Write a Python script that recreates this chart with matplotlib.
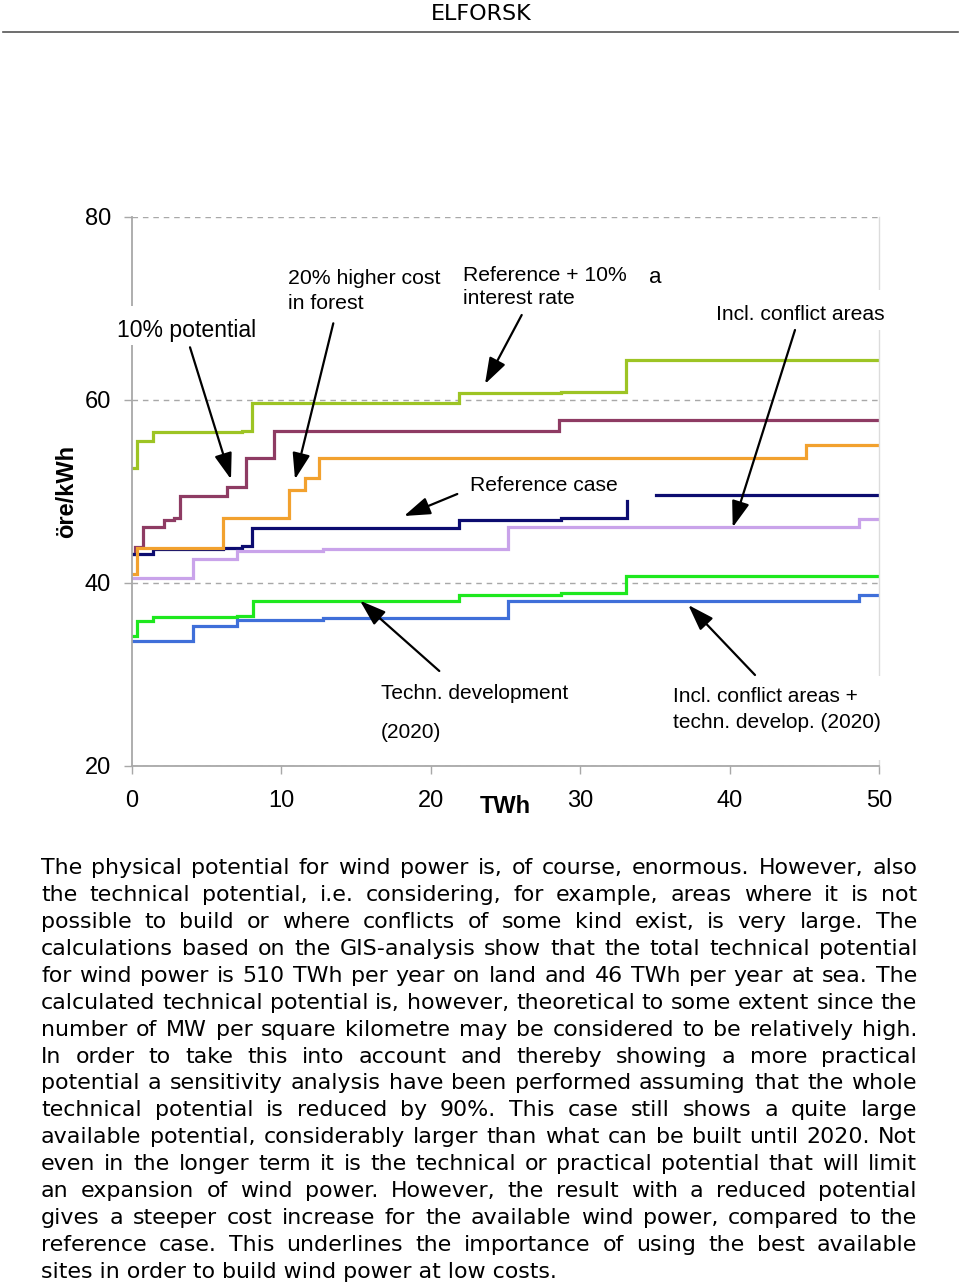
import matplotlib
matplotlib.use("Agg")
import matplotlib.pyplot as plt
import numpy as np
from matplotlib.lines import Line2D
from matplotlib.patches import FancyArrowPatch, Rectangle

W, H = 960, 1285

# step curves: TWh where a step starts -> cost (öre/kWh) from there on
interest_x = [0, 0.33, 1.45, 7.36, 8.07, 21.9, 28.7, 33.1, 50]
interest_y = [52.6, 55.5, 56.5, 56.6, 59.6, 60.7, 60.9, 64.3, 64.3]

pot10_x = [0, 0.2, 0.74, 2.16, 2.8, 3.23, 6.35, 7.65, 9.54, 28.56, 50]
pot10_y = [43.2, 43.9, 46.1, 46.9, 47.05, 49.5, 50.5, 53.65, 56.6, 57.8, 57.8]

forest_x = [0, 0.33, 6.13, 10.55, 11.6, 12.5, 45.1, 50]
forest_y = [41.0, 43.85, 47.05, 50.2, 51.5, 53.65, 55.1, 55.1]

ref_x = [0, 1.45, 6.13, 7.36, 8.07, 21.9, 28.7, 33.15, np.nan, 35.05, 50]
ref_y = [43.2, 43.65, 43.8, 44.0, 46.05, 46.9, 47.1, 49.0, np.nan, 49.55, 49.55]

conflict_x = [0, 4.12, 7.06, 12.8, 25.15, 48.65, 50]
conflict_y = [40.55, 42.65, 43.5, 43.7, 46.1, 46.95, 46.95]

techn_x = [0, 0.33, 1.45, 7.06, 8.1, 21.9, 28.7, 33.1, 50]
techn_y = [34.2, 35.8, 36.3, 36.4, 38.05, 38.7, 38.9, 40.7, 40.7]

conflict_techn_x = [0, 4.12, 7.06, 12.8, 25.15, 48.65, 50]
conflict_techn_y = [33.65, 35.25, 36.0, 36.2, 38.05, 38.7, 38.7]

series = [
    (interest_x, interest_y, "#9dc424"),
    (pot10_x, pot10_y, "#8e3b63"),
    (ref_x, ref_y, "#0c0c70"),
    (forest_x, forest_y, "#f2a12e"),
    (conflict_x, conflict_y, "#c9a3ea"),
    (techn_x, techn_y, "#1ee81e"),
    (conflict_techn_x, conflict_techn_y, "#3f6fd9"),
]

x_ticks = [0, 10, 20, 30, 40, 50]
y_ticks = [20, 40, 60, 80]

body = [
    "The physical potential for wind power is, of course, enormous. However, also",
    "the technical potential, i.e. considering, for example, areas where it is not",
    "possible to build or where conflicts of some kind exist, is very large. The",
    "calculations based on the GIS-analysis show that the total technical potential",
    "for wind power is 510 TWh per year on land and 46 TWh per year at sea. The",
    "calculated technical potential is, however, theoretical to some extent since the",
    "number of MW per square kilometre may be considered to be relatively high.",
    "In order to take this into account and thereby showing a more practical",
    "potential a sensitivity analysis have been performed assuming that the whole",
    "technical potential is reduced by 90%. This case still shows a quite large",
    "available potential, considerably larger than what can be built until 2020. Not",
    "even in the longer term it is the technical or practical potential that will limit",
    "an expansion of wind power. However, the result with a reduced potential",
    "gives a steeper cost increase for the available wind power, compared to the",
    "reference case. This underlines the importance of using the best available",
    "sites in order to build wind power at low costs.",
]


def fx(px):
    return px / W


def fy(py):
    return 1 - py / H


fig = plt.figure(figsize=(W / 100, H / 100), dpi=100)
ax = fig.add_axes([fx(131.7), fy(766), (879 - 131.7) / W, (766 - 216.7) / H])

for xs, ys, col in series:
    ax.plot(xs, ys, drawstyle="steps-post", color=col, lw=2.3, solid_joinstyle="miter")

ax.set_xlim(0, 50)
ax.set_ylim(20, 80)
ax.set_xticks(x_ticks)
ax.set_yticks(y_ticks)
ax.grid(axis="y", linestyle=(0, (4, 3.5)), color="#a8a8a8", lw=1)
ax.set_axisbelow(True)
for lab in ax.get_xticklabels() + ax.get_yticklabels():
    lab.set_family("Liberation Sans")
    lab.set_fontsize(17)
ax.tick_params(axis="y", direction="out", length=6, width=1, color="#a8a8a8", pad=9)
ax.tick_params(axis="x", direction="out", length=6, width=1, color="#a8a8a8", pad=11)
ax.spines["top"].set_visible(False)
for s in ("left", "bottom"):
    ax.spines[s].set_color("#a8a8a8")
    ax.spines[s].set_linewidth(1.3)
ax.spines["right"].set_color("#dcdcdc")
ax.spines["right"].set_linewidth(1)

# white text boxes that hide parts of the frame
for x0, y0, x1, y1 in [(112, 306, 262, 345), (708, 290, 892, 330), (668, 676, 892, 760)]:
    fig.add_artist(Rectangle((fx(x0), fy(y1)), (x1 - x0) / W, (y1 - y0) / H,
                             transform=fig.transFigure, facecolor="white",
                             edgecolor="none", zorder=2))

labels = [
    ("10% potential", 117, 337, 16.6),
    ("20% higher cost", 288, 284, 15.3),
    ("in forest", 288, 309.3, 15.3),
    ("Reference + 10%", 462.7, 280.7, 15.2),
    ("interest rate", 462.7, 304.3, 15.2),
    ("a", 649.3, 283.3, 16),
    ("Incl. conflict areas", 716, 320, 15.2),
    ("Reference case", 470, 491, 15.2),
    ("Techn. development", 380.7, 699.3, 15),
    ("(2020)", 380.7, 738.3, 15),
    ("Incl. conflict areas +", 673.3, 702.3, 15),
    ("techn. develop. (2020)", 673.3, 728.3, 15),
]
for txt, x, y, fs in labels:
    fig.text(fx(x), fy(y), txt, ha="left", va="baseline", fontsize=fs,
             family="Liberation Sans", zorder=3)

arrows = [
    ((190, 347.3), (231, 479.3)),
    ((333.3, 323.3), (295, 479.3)),
    ((521.7, 315), (485, 384)),
    ((795, 330), (732.7, 527.3)),
    ((457.3, 494), (404, 516)),
    ((439.3, 671), (360, 600.7)),
    ((755, 675), (688.3, 605)),
]
for (x0, y0), (x1, y1) in arrows:
    fig.add_artist(FancyArrowPatch((fx(x0), fy(y0)), (fx(x1), fy(y1)),
                                   transform=fig.transFigure,
                                   arrowstyle="-|>,head_length=0.8,head_width=0.27",
                                   mutation_scale=20, color="black", lw=1.6,
                                   shrinkA=0, shrinkB=0, zorder=4))

fig.text(fx(479.3), fy(813.3), "TWh", ha="left", va="baseline", fontsize=17,
         fontweight="bold", family="Liberation Sans")
fig.text(fx(67), fy(491.7), "öre/kWh", ha="center", va="center", rotation=90,
         fontsize=17, fontweight="bold", family="Liberation Sans")

# page header
fig.text(fx(481), fy(20), "ELFORSK", ha="center", va="baseline", fontsize=16,
         family="DejaVu Sans")
fig.add_artist(Line2D([fx(3), fx(958)], [fy(31.7), fy(31.7)], color="#555555", lw=1.2))

# justified body text
renderer = fig.canvas.get_renderer()


def width_px(s, size):
    t = fig.text(0, 0, s, fontsize=size, family="DejaVu Sans")
    w = t.get_window_extent(renderer).width
    t.remove()
    return w


left, right = 41, 917
size = 10 * 517 / width_px(body[-1], 10)
size = min([size] + [10 * (right - left) / width_px(l, 10) for l in body[:-1]])

for i, line in enumerate(body):
    y = fy(874 + i * 26.93)
    if i == len(body) - 1:
        fig.text(fx(left), y, line, ha="left", va="baseline", fontsize=size,
                 family="DejaVu Sans")
        continue
    words = line.split(" ")
    ws = [width_px(w, size) for w in words]
    gap = (right - left - sum(ws)) / (len(words) - 1)
    x = left
    for w, wpx in zip(words, ws):
        fig.text(fx(x), y, w, ha="left", va="baseline", fontsize=size,
                 family="DejaVu Sans")
        x += wpx + gap

fig.savefig("out.png", dpi=100)
